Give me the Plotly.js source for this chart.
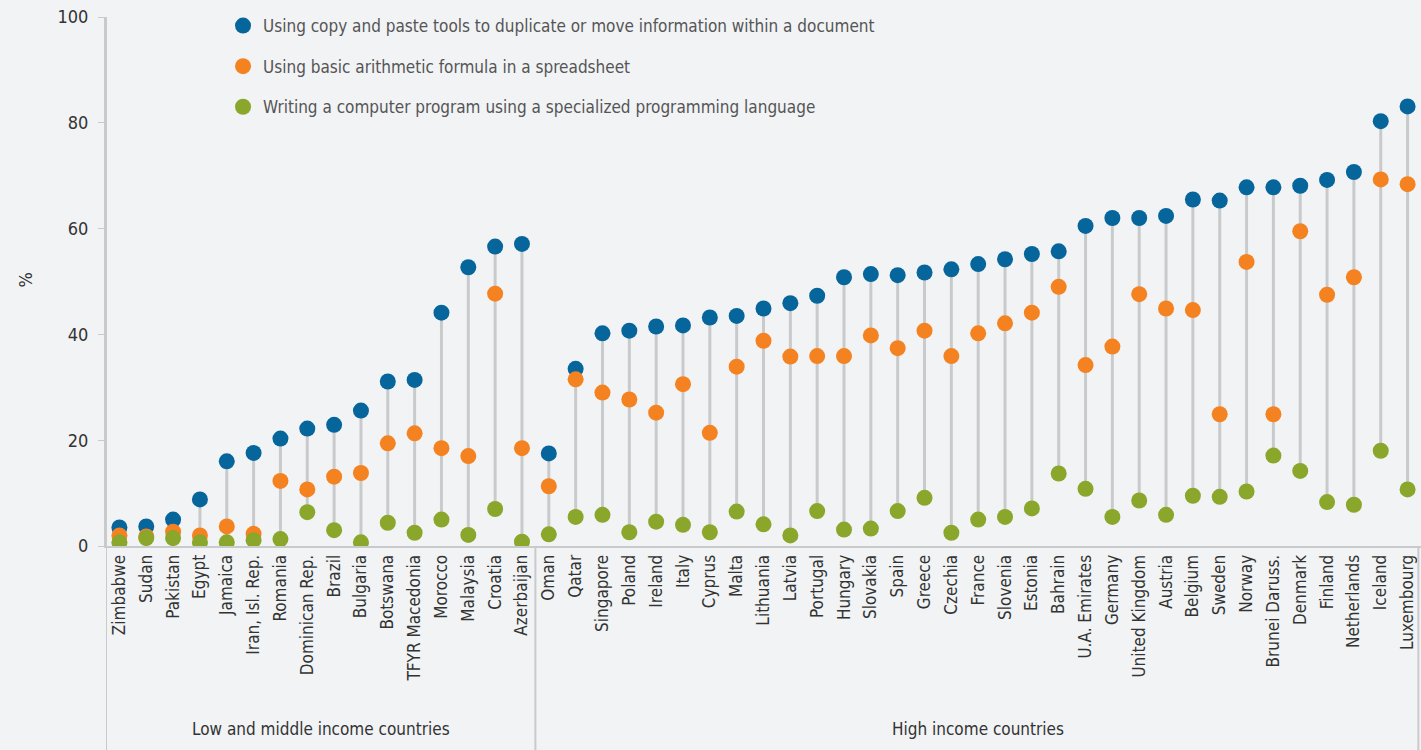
<!DOCTYPE html>
<html>
<head>
<meta charset="utf-8">
<script src="https://cdn.plot.ly/plotly-3.0.1.min.js"></script>
<style>
  html, body { margin: 0; padding: 0; background: #f1f3f5; }
  #chart { width: 1421px; height: 750px; }
</style>
</head>
<body>
<div id="chart"></div>
<script>
const countries = ["Zimbabwe","Sudan","Pakistan","Egypt","Jamaica","Iran, Isl. Rep.","Romania","Dominican Rep.","Brazil","Bulgaria","Botswana","TFYR Macedonia","Morocco","Malaysia","Croatia","Azerbaijan",
  "Oman","Qatar","Singapore","Poland","Ireland","Italy","Cyprus","Malta","Lithuania","Latvia","Portugal","Hungary","Slovakia","Spain","Greece","Czechia","France","Slovenia","Estonia","Bahrain","U.A. Emirates","Germany","United Kingdom","Austria","Belgium","Sweden","Norway","Brunei Daruss.","Denmark","Finland","Netherlands","Iceland","Luxembourg"];

const copyPaste = [3.5,3.7,5.0,8.8,16.0,17.6,20.3,22.2,22.9,25.6,31.1,31.4,44.1,52.7,56.6,57.1,
  17.5,33.5,40.2,40.7,41.5,41.7,43.2,43.5,44.9,45.9,47.3,50.8,51.4,51.2,51.7,52.3,53.3,54.2,55.2,55.7,60.5,62.0,62.0,62.4,65.5,65.3,67.8,67.8,68.1,69.2,70.7,80.3,83.1];

const formula = [2.0,1.8,2.7,2.0,3.7,2.3,12.3,10.7,13.1,13.8,19.4,21.3,18.5,17.0,47.7,18.5,
  11.3,31.5,29.0,27.7,25.2,30.6,21.4,33.9,38.8,35.8,35.9,35.9,39.8,37.4,40.7,35.9,40.2,42.1,44.1,49.0,34.2,37.7,47.6,44.9,44.6,24.9,53.7,24.9,59.5,47.5,50.8,69.3,68.4];

const programming = [0.7,1.5,1.5,0.7,0.7,1.1,1.3,6.4,3.0,0.7,4.4,2.5,5.0,2.1,7.0,0.8,
  2.2,5.5,5.9,2.6,4.6,4.0,2.6,6.5,4.1,2.0,6.6,3.1,3.3,6.6,9.1,2.5,5.0,5.5,7.1,13.7,10.8,5.5,8.6,5.9,9.5,9.3,10.3,17.1,14.2,8.3,7.8,18.0,10.7];

const seriesNames = [
  "Using copy and paste tools to duplicate or move information within a document",
  "Using basic arithmetic formula in a spreadsheet",
  "Writing a computer program using a specialized programming language"
];
const groupNames = ["Low and middle income countries", "High income countries"];
const groupCounts = [16, 33];
const yTicks = [0, 20, 40, 60, 80, 100];

const FONT = '"Liberation Sans Narrow", "DejaVu Sans Condensed", "Roboto Condensed", Roboto, sans-serif';
const colors = ["#06669c", "#f58220", "#8aa62b"];

// stems from min to max of each country
const stemX = [], stemY = [];
countries.forEach((c, i) => {
  const vals = [copyPaste[i], formula[i], programming[i]];
  stemX.push(c, c, null);
  stemY.push(Math.min(...vals), Math.max(...vals), null);
});

const traces = [
  { x: stemX, y: stemY, type: "scatter", mode: "lines", line: { color: "#c9cacc", width: 3 },
    showlegend: false, hoverinfo: "skip" }
];
[copyPaste, formula, programming].forEach((arr, k) => {
  traces.push({
    x: countries, y: arr, type: "scatter", mode: "markers", name: seriesNames[k],
    legendgroup: "g" + k,
    marker: { color: colors[k], size: 16, line: { width: 0 } }
  });
});

// group separators and labels
const shapes = [];
const annotations = [];
let start = 0;
const bottomPaper = -0.386;
shapes.push({ type: "line", xref: "x", yref: "paper", x0: -0.5, x1: -0.5, y0: 1, y1: bottomPaper,
  line: { color: "#c9cacc", width: 2 } });
groupCounts.forEach((n, g) => {
  const end = start + n;
  const xr = (g === groupCounts.length - 1) ? { xref: "paper", x0: 0.998, x1: 0.998 } : { xref: "x", x0: end - 0.5, x1: end - 0.5 };
  shapes.push(Object.assign({ type: "line", yref: "paper", y0: 0, y1: bottomPaper,
    line: { color: "#c9cacc", width: 2 } }, xr));
  annotations.push({ text: groupNames[g], xref: "x", yref: "paper", x: (start + end - 1) / 2, y: -0.345,
    showarrow: false, font: { family: FONT, size: 17, color: "#333" }, xanchor: "center", yanchor: "middle" });
  start = end;
});
annotations.push({ text: "%", xref: "paper", yref: "paper", x: -0.0616, y: 0.504, textangle: -90,
  xanchor: "center", yanchor: "middle",
  showarrow: false, font: { family: FONT, size: 18, color: "#333" } });

const layout = {
  width: 1421, height: 750,
  paper_bgcolor: "#f1f3f5", plot_bgcolor: "#f1f3f5",
  margin: { l: 106, r: 0, t: 17, b: 204 },
  font: { family: FONT, size: 17, color: "#333" },
  showlegend: true,
  legend: { x: 0.089, y: 1.017, xanchor: "left", yanchor: "top", bgcolor: "rgba(0,0,0,0)",
    font: { family: FONT, size: 17, color: "#555" }, traceorder: "grouped", tracegroupgap: 15.5 },
  xaxis: { type: "category", range: [-0.5, countries.length - 0.5], tickangle: -90,
    showgrid: false, zeroline: false, showline: true, linecolor: "#c9cacc", linewidth: 2,
    ticks: "", tickfont: { family: FONT, size: 17, color: "#333" }, fixedrange: true },
  yaxis: { range: [0, 100], tickvals: yTicks, ticktext: yTicks.map(String), showgrid: false, zeroline: false,
    showline: true, linecolor: "#c9cacc", linewidth: 2, ticks: "outside", ticklen: 6, tickcolor: "#c9cacc",
    tickfont: { family: FONT, size: 18, color: "#333" }, ticklabelstandoff: 6, fixedrange: true },
  shapes: shapes,
  annotations: annotations
};

Plotly.newPlot("chart", traces, layout, { displayModeBar: false, staticPlot: true });
</script>
</body>
</html>
